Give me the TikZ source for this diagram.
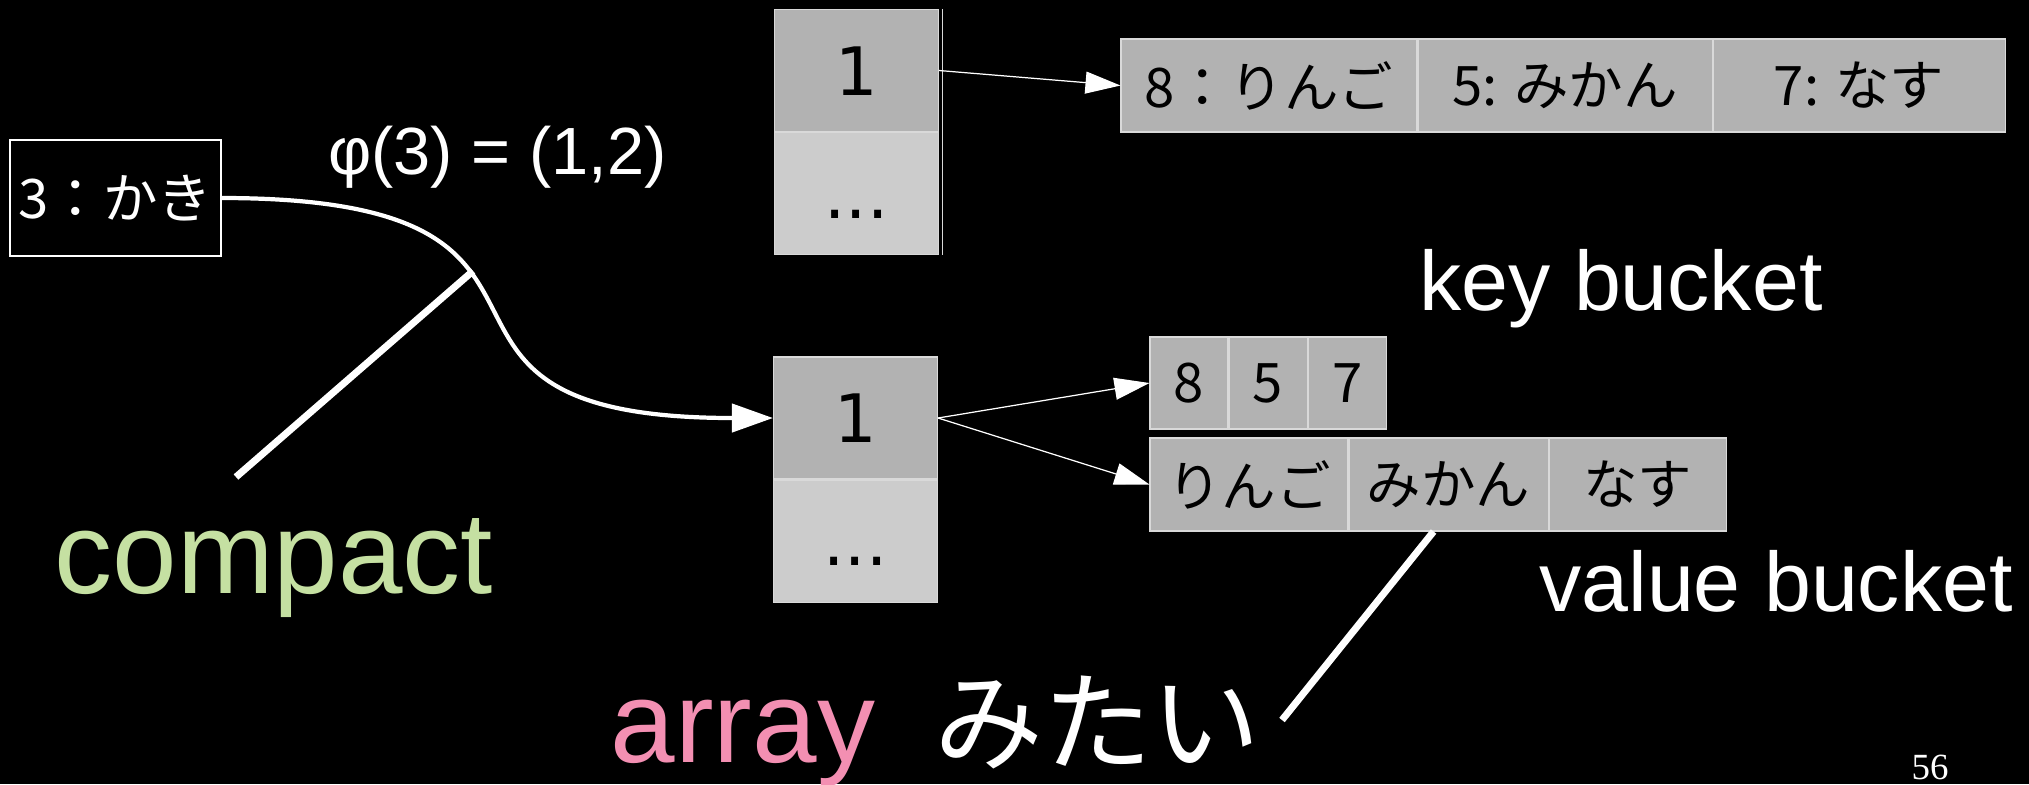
\documentclass[tikz,border=0pt]{standalone}
\usepackage{fontspec}
\setmainfont{Liberation Sans}
\newfontfamily\dejavu{DejaVu Sans}
\newfontfamily\jp{Noto Sans CJK JP}
\newfontfamily\pagefont{Liberation Serif}
\usetikzlibrary{arrows.meta, positioning, calc}

\definecolor{compactgreen}{RGB}{197,224,162}
\definecolor{arraypink}{RGB}{243,143,178}

\begin{document}
\begin{tikzpicture}[
  cell/.style    = {rectangle, draw=white!85!black, line width=0.3pt, fill=gray!60,
                    minimum height=0.93cm, inner sep=0pt, text=black,
                    font=\jp\fontsize{15.5}{18}\selectfont},
  hcell/.style   = {rectangle, draw=white!85!black, line width=0.3pt, fill=gray!60,
                    minimum width=1.64cm, minimum height=1.22cm, inner sep=0pt,
                    text height=0.49cm, text depth=0cm, text=black,
                    font=\dejavu\fontsize{19}{22}\selectfont},
  morecell/.style= {hcell, fill=gray!40},
  keybox/.style  = {rectangle, draw=white, line width=0.4pt, fill=black, text=white,
                    minimum width=2.11cm, minimum height=1.16cm, inner sep=0pt,
                    font=\jp\fontsize{15.5}{18}\selectfont},
  bigtext/.style = {anchor=base, font=\fontsize{33}{38}\selectfont},
  midtext/.style = {anchor=base, text=white, font=\fontsize{24}{28}\selectfont},
  bigarr/.style  = {-{Triangle[length=0.41cm,width=0.28cm]}, white, line width=1.2pt},
  thinarr/.style = {-{Triangle[length=0.35cm,width=0.22cm]}, white, line width=0.35pt},
  pointer/.style = {white, line width=2pt}
]

\useasboundingbox[fill=black] (0,0) rectangle (20.29,-7.84);

% the record being looked up
\node[keybox] (kaki) at (1.155,-1.98) {3：かき};
\node[anchor=base, text=white, font=\fontsize{19}{22}\selectfont] (phi) at (4.975,-1.74) {φ(3) = (1,2)};

% hash table, plain layout
\node[hcell]    (h1)  at (8.565,-0.705) {1};
\node[morecell] (hd1) [below=0cm of h1] {...};
\draw[white!85!black, line width=0.3pt] ([xshift=0.03cm]h1.north east) -- ([xshift=0.03cm]hd1.south east);

\node[cell, minimum width=2.96cm] (kv1) at (12.69,-0.855) {8：りんご};
\node[cell, minimum width=2.94cm] (kv2) [right=0cm of kv1] {5: みかん};
\node[cell, minimum width=2.92cm] (kv3) [right=0cm of kv2] {7: なす};

% hash table, split key / value buckets
\node[hcell]    (h2)  at (8.555,-4.18) {1};
\node[morecell] (hd2) [below=0cm of h2] {...};

\node[cell, minimum width=0.78cm, minimum height=0.92cm] (k1) at (11.89,-3.83) {8};
\node[cell, minimum width=0.78cm, minimum height=0.92cm] (k2) [right=0cm of k1] {5};
\node[cell, minimum width=0.78cm, minimum height=0.92cm] (k3) [right=0cm of k2] {7};

\node[cell, minimum width=1.98cm] (v1) at (12.49,-4.845) {りんご};
\node[cell, minimum width=1.99cm] (v2) [right=0cm of v1] {みかん};
\node[cell, minimum width=1.77cm] (v3) [right=0cm of v2] {なす};

\node[midtext] (keyb) at (16.21,-3.10) {key bucket};
\node[midtext] (valb) at (17.76,-6.11) {value bucket};

% remarks
\node[bigtext, text=compactgreen] (compact) at (2.74,-5.93) {compact};
\node[bigtext, text=arraypink]    (array)   at (7.43,-7.62) {array};
\node[anchor=base, text=white, font=\jp\fontsize{31}{36}\selectfont] (mitai) at (10.975,-7.62) {みたい};
\node[anchor=base, text=white, font=\pagefont\fontsize{10.5}{12}\selectfont] (pageno) at (19.30,-7.79) {56};

\coordinate (cmp top) at (4.73,-2.71);
\coordinate (cmp end) at (2.36,-4.77);
\coordinate (mitai end) at (12.82,-7.20);

\draw[bigarr]  (kaki.east) to[out=0,in=180,looseness=1.8] (h2.west);
\draw[thinarr] (h1.east) -- (kv1.west);
\draw[thinarr] (h2.east) -- (k1.west);
\draw[thinarr] (h2.east) -- (v1.west);

\draw[pointer] (cmp end) -- (cmp top);
\draw[pointer] ($(v2.south)+(-0.15,0)$) -- (mitai end);

\end{tikzpicture}
\end{document}
